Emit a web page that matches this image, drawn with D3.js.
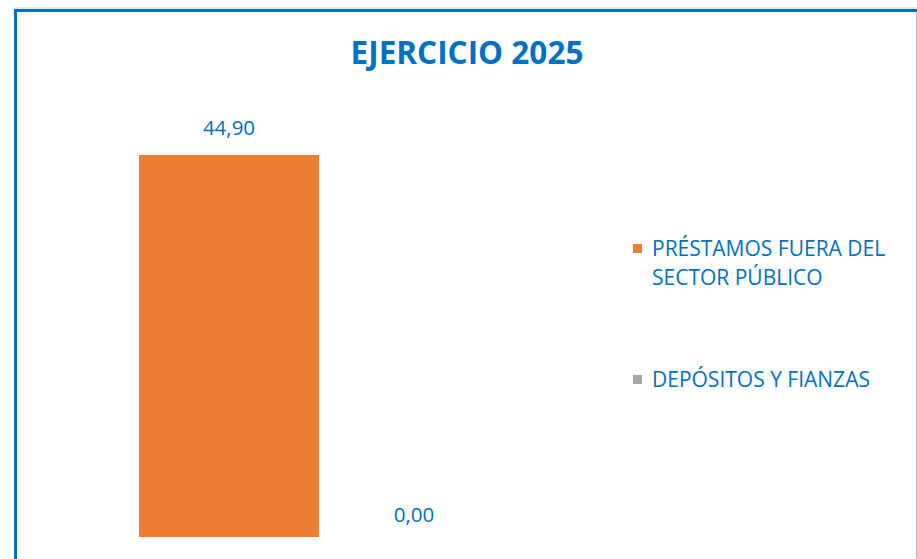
<!DOCTYPE html>
<html>
<head>
<meta charset="utf-8">
<script src="https://cdn.jsdelivr.net/npm/d3@7"></script>
<style>
  html, body { margin: 0; padding: 0; background: #fff; }
  svg { display: block; }
</style>
</head>
<body>
<svg id="chart" width="917" height="559"></svg>
<script>
// Series and values
const series = ["PRÉSTAMOS FUERA DEL SECTOR PÚBLICO", "DEPÓSITOS Y FIANZAS"];
const legendLines = [["PRÉSTAMOS FUERA DEL", "SECTOR PÚBLICO"], ["DEPÓSITOS Y FIANZAS"]];
const values = [44.90, 0.00];
const colors = ["#ED7D31", "#A5A5A5"];
const title = "EJERCICIO 2025";

const W = 917, H = 559;
const blue = "#0070C0";
const font = "'Open Sans', sans-serif";

const svg = d3.select("#chart");

// Frame
svg.append("line").attr("x1", 15).attr("x2", W).attr("y1", 8).attr("y2", 8)
  .attr("stroke", "#BDD7EE").attr("stroke-width", 1);
svg.append("line").attr("x1", 14).attr("x2", W).attr("y1", 10.5).attr("y2", 10.5)
  .attr("stroke", blue).attr("stroke-width", 3);
svg.append("line").attr("x1", 15.5).attr("x2", 15.5).attr("y1", 9).attr("y2", H)
  .attr("stroke", blue).attr("stroke-width", 3);
svg.append("line").attr("x1", 916.5).attr("x2", 916.5).attr("y1", 12).attr("y2", H)
  .attr("stroke", "#9DC3E6").attr("stroke-width", 1);

// Title
svg.append("text")
  .attr("x", 467).attr("y", 64)
  .attr("text-anchor", "middle")
  .attr("font-family", font).attr("font-weight", 700).attr("font-size", 31.5)
  .attr("fill", blue)
  .text(title);

// Scales: two bars 180px wide, 5px apart
const plot = { left: 139, right: 504, top: 155, bottom: 537 };
const x = d3.scaleBand().domain(series).range([plot.left, plot.right]).paddingInner(5 / 185);
const y = d3.scaleLinear().domain([0, values[0]]).range([plot.bottom, plot.top]);

const data = series.map((s, i) => ({ s, v: values[i], c: colors[i] }));

svg.append("g").selectAll("rect").data(data).join("rect")
  .attr("x", d => x(d.s))
  .attr("width", x.bandwidth())
  .attr("y", d => y(d.v))
  .attr("height", d => y(0) - y(d.v))
  .attr("fill", d => d.c);

const fmt = v => v.toFixed(2).replace(".", ",");
svg.append("g").selectAll("text").data(data).join("text")
  .attr("x", d => x(d.s) + x.bandwidth() / 2)
  .attr("y", d => y(d.v) - (d.v > 0 ? 20 : 15))
  .attr("text-anchor", "middle")
  .attr("font-family", font).attr("font-size", 20.5)
  .attr("fill", blue)
  .text(d => fmt(d.v));

// Legend
const legendY = [256, 387];
const lg = svg.append("g");
data.forEach((d, i) => {
  lg.append("rect")
    .attr("x", 633).attr("y", legendY[i] - 12)
    .attr("width", 9).attr("height", 9)
    .attr("fill", d.c);
  const t = lg.append("text")
    .attr("x", 652).attr("y", legendY[i])
    .attr("font-family", font).attr("font-size", 21)
    .attr("fill", blue);
  legendLines[i].forEach((line, j) => {
    t.append("tspan").attr("x", 652).attr("dy", j === 0 ? 0 : 29).text(line);
  });
});
</script>
</body>
</html>
